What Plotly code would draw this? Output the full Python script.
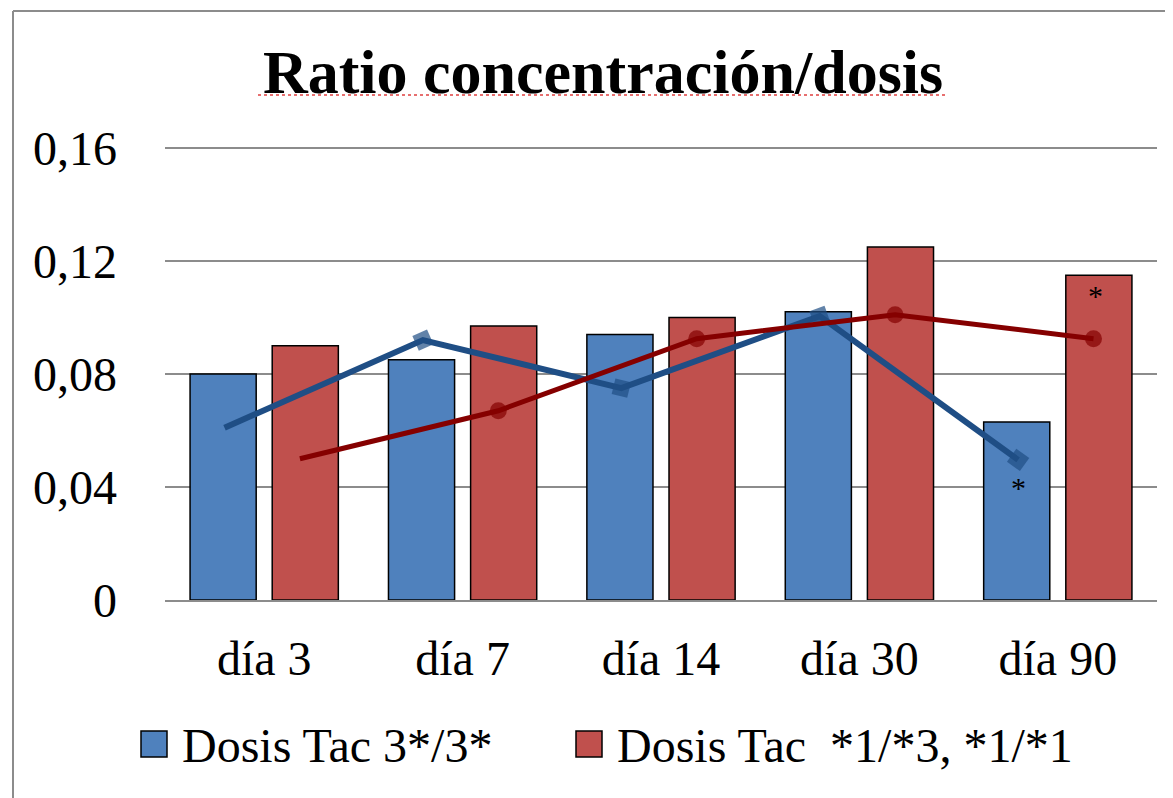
import plotly.graph_objects as go

categories = ["día 3", "día 7", "día 14", "día 30", "día 90"]
blue_bars = [0.080, 0.085, 0.094, 0.102, 0.063]
red_bars = [0.090, 0.097, 0.100, 0.125, 0.115]
blue_line = [0.061, 0.092, 0.075, 0.1005, 0.0496]
red_line = [0.050, 0.067, 0.0925, 0.101, 0.0925]
y_ticks = [0, 0.04, 0.08, 0.12, 0.16]
y_tick_labels = ["0", "0,04", "0,08", "0,12", "0,16"]
series_names = ["Dosis Tac 3*/3*", "Dosis Tac  *1/*3, *1/*1"]

FONT = "Liberation Serif"
BLUE = "#4F81BD"
RED = "#C0504D"
BLUE_LINE = "#1F4E85"
RED_LINE = "#850000"
GRID = "#8C8C8C"

idx = list(range(len(categories)))
blue_x = [i - 0.2 for i in idx]
red_x = [i + 0.18 for i in idx]

fig = go.Figure()
fig.add_trace(go.Bar(x=idx, y=blue_bars, name=series_names[0], marker=dict(color=BLUE, line=dict(color="black", width=1.5)), showlegend=False))
fig.add_trace(go.Bar(x=idx, y=red_bars, name=series_names[1], marker=dict(color=RED, line=dict(color="black", width=1.5)), showlegend=False))
fig.add_trace(go.Scatter(x=blue_x, y=blue_line, mode="lines+markers", showlegend=False,
                         line=dict(color=BLUE_LINE, width=6),
                         marker=dict(symbol="square", size=[0, 16, 16, 16, 16], color=BLUE_LINE,
                                     angleref="previous", line=dict(width=0))))
fig.add_trace(go.Scatter(x=red_x, y=red_line, mode="lines+markers", showlegend=False,
                         line=dict(color=RED_LINE, width=5),
                         marker=dict(symbol="circle", size=[0, 17, 17, 17, 17], color=RED_LINE, line=dict(width=0))))

# significance asterisks
fig.add_annotation(x=blue_x[4], y=blue_line[4], text="*", showarrow=False, yshift=-28,
                   font=dict(family=FONT, size=30, color="black"))
fig.add_annotation(x=red_x[4] + 0.01, y=red_bars[4], text="*", showarrow=False, yshift=-20,
                   font=dict(family=FONT, size=30, color="black"))

OFF = 8  # page body margin
PX_PER_UNIT = 113 / 0.04
EXTRA = 7  # px of headroom above the 0.16 gridline so it is drawn
W, H = 1173 - OFF, 798 - OFF
L, R, T, B = 165 - OFF, 16, 148 - OFF - EXTRA, 198
pw, ph = W - L - R, H - T - B
y_top = 0.16 + EXTRA / PX_PER_UNIT

def px(x):
    return (x - OFF - L) / pw

def py(y):
    return (H - B - (y - OFF)) / ph

shapes = [
    # chart border (left and top visible)
    dict(type="line", xref="paper", yref="paper", x0=px(13), x1=px(13), y0=py(11), y1=py(820), line=dict(color=GRID, width=2)),
    dict(type="line", xref="paper", yref="paper", x0=px(13), x1=px(1190), y0=py(11), y1=py(11), line=dict(color=GRID, width=2)),
    # legend swatches
    dict(type="rect", xref="paper", yref="paper", x0=px(141), x1=px(167), y0=py(757), y1=py(731), fillcolor=BLUE, line=dict(color="black", width=1.5)),
    dict(type="rect", xref="paper", yref="paper", x0=px(576), x1=px(602), y0=py(757), y1=py(731), fillcolor=RED, line=dict(color="black", width=1.5)),
    # spell-check underline under the title
    dict(type="line", xref="paper", yref="paper", x0=px(258), x1=px(948), y0=py(95), y1=py(95), line=dict(color="#E04040", width=1.5, dash="dot")),
]
fig.add_annotation(xref="paper", yref="paper", x=px(180), y=py(745), xanchor="left", yanchor="middle",
                   text=series_names[0], showarrow=False, font=dict(family=FONT, size=48, color="black"))
fig.add_annotation(xref="paper", yref="paper", x=px(615), y=py(745), xanchor="left", yanchor="middle",
                   text=series_names[1], showarrow=False, font=dict(family=FONT, size=48, color="black"))

fig.update_layout(
    width=W, height=H,
    margin=dict(l=L, r=R, t=T, b=B, autoexpand=False),
    paper_bgcolor="white", plot_bgcolor="white",
    barmode="group", bargap=0.172, bargroupgap=0.195,
    title=dict(text="<b>Ratio concentración/dosis</b>", x=(603 - OFF) / W, xanchor="center",
               y=1 - (71 - OFF) / H, yanchor="middle", yref="container",
               font=dict(family=FONT, size=62, color="black")),
    font=dict(family=FONT, color="black"),
    shapes=shapes,
    showlegend=False,
)
fig.update_xaxes(range=[-0.5, 4.5], tickvals=idx, ticktext=categories, showgrid=False,
                 showline=True, linecolor=GRID, linewidth=2, ticks="", zeroline=False,
                 tickfont=dict(family=FONT, size=48, color="black"), ticklabelstandoff=15)
fig.update_yaxes(range=[0, y_top], tickvals=y_ticks, ticktext=y_tick_labels, showgrid=True,
                 gridcolor=GRID, gridwidth=2, zeroline=False, showline=False, ticks="",
                 tickfont=dict(family=FONT, size=48, color="black"), ticklabelstandoff=47)

fig.write_html("out.html")
